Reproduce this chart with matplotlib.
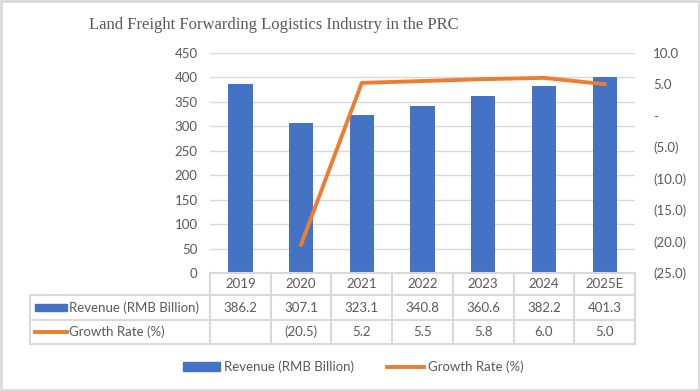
import numpy as np
import matplotlib.pyplot as plt
from matplotlib.patches import Rectangle, Patch
from matplotlib.lines import Line2D
from matplotlib.ticker import FuncFormatter

plt.rcParams['font.family'] = ['Lato', 'DejaVu Sans']

years = ['2019', '2020', '2021', '2022', '2023', '2024', '2025E']
revenue = [386.2, 307.1, 323.1, 340.8, 360.6, 382.2, 401.3]
growth = [np.nan, -20.5, 5.2, 5.5, 5.8, 6.0, 5.0]

blue = '#4472C4'
orange = '#ED7D31'
grey = '#D9D9D9'
txt = '#595959'
fs = 9.5

W, H = 700, 391
fig = plt.figure(figsize=(7, 3.91), dpi=100)


def fx(px):
    return px / W


def fy(py):
    return 1 - py / H


# plot area in pixel coords
L, R, T, B = 210, 635, 52.7, 273
ax = fig.add_axes([fx(L), fy(B), fx(R) - fx(L), fy(T) - fy(B)])
x = np.arange(len(years))
ax.bar(x, revenue, width=0.4, color=blue, zorder=2)
ax.set_xlim(-0.5, len(years) - 0.5)
ax.set_ylim(0, 450)
ax.set_yticks(range(0, 451, 50))
ax.grid(axis='y', color=grey, lw=1)
ax.set_axisbelow(True)
for s in ax.spines.values():
    s.set_visible(False)
ax.set_xticks([])
ax.tick_params(length=0, labelsize=fs, labelcolor=txt, pad=9)

ax2 = ax.twinx()
ax2.plot(x, growth, color=orange, lw=2.8, zorder=3)
ax2.set_ylim(-25, 10)
ax2.set_yticks(range(-25, 11, 5))


def acct(v, pos):
    if abs(v) < 1e-9:
        return '-'
    if v < 0:
        return '(%.1f)' % -v
    return '%.1f' % v


ax2.yaxis.set_major_formatter(FuncFormatter(acct))
for s in ax2.spines.values():
    s.set_visible(False)
ax2.tick_params(length=0, labelsize=fs, labelcolor=txt, pad=13)
for lab in ax2.get_yticklabels():
    lab.set_horizontalalignment('left')

# data table under the chart
rows = [273, 295, 320, 344]
tl = 29.5
colw = (R - L) / len(years)


def hline(x0, x1, y):
    fig.add_artist(Line2D([fx(x0), fx(x1)], [fy(y), fy(y)], color=grey, lw=1.5))


def vline(xp, y0, y1):
    fig.add_artist(Line2D([fx(xp), fx(xp)], [fy(y0), fy(y1)], color=grey, lw=1.5))


hline(L, R, rows[0])
for y in rows[1:]:
    hline(tl, R, y)
vline(tl, rows[1], rows[3])
for k in range(len(years) + 1):
    vline(L + k * colw, rows[0], rows[3])

mids = [(rows[i] + rows[i + 1]) / 2 for i in range(3)]
for k, yr in enumerate(years):
    cx = L + (k + 0.5) * colw
    fig.text(fx(cx), fy(mids[0]), yr, ha='center', va='center', fontsize=fs, color=txt)
    fig.text(fx(cx), fy(mids[1]), '%.1f' % revenue[k], ha='center', va='center', fontsize=fs, color=txt)
    g = growth[k]
    gs = '' if np.isnan(g) else acct(g, None)
    fig.text(fx(cx), fy(mids[2]), gs, ha='center', va='center', fontsize=fs, color=txt)

fig.add_artist(Rectangle((fx(35), fy(mids[1] + 3.5)), fx(67) - fx(35), fy(mids[1] - 3.5) - fy(mids[1] + 3.5),
                         transform=fig.transFigure, color=blue))
fig.add_artist(Line2D([fx(35), fx(67)], [fy(mids[2]), fy(mids[2])], color=orange, lw=2.8))
fig.text(fx(69), fy(mids[1]), 'Revenue (RMB Billion)', ha='left', va='center', fontsize=fs, color=txt)
fig.text(fx(69), fy(mids[2]), 'Growth Rate (%)', ha='left', va='center', fontsize=fs, color=txt)

fig.text(fx(89), fy(25), 'Land Freight Forwarding Logistics Industry in the PRC',
         family='Liberation Serif', fontsize=12, color=txt, ha='left', va='center')

handles = [Patch(color=blue, label='Revenue (RMB Billion)'),
           Line2D([], [], color=orange, lw=2.8, label='Growth Rate (%)')]
fig.legend(handles=handles, loc='center', bbox_to_anchor=(fx(353), fy(367)), ncol=2,
           frameon=False, fontsize=fs, labelcolor=txt, handlelength=2.8, handleheight=0.6,
           handletextpad=0.3, columnspacing=2.5)

fig.add_artist(Rectangle((0.001, 0.002), 0.997, 0.995, transform=fig.transFigure,
                         fill=False, edgecolor=grey, lw=2))

fig.savefig('out.png', dpi=100)
